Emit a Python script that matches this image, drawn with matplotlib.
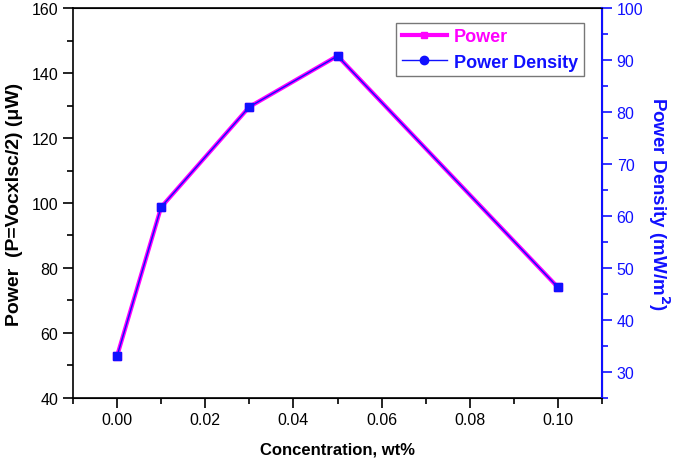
import matplotlib
matplotlib.use("Agg")
import matplotlib.pyplot as plt
from matplotlib.lines import Line2D
from matplotlib.ticker import MultipleLocator

plt.rcParams['font.family'] = ['Liberation Sans', 'DejaVu Sans']

conc = [0.00, 0.01, 0.03, 0.05, 0.10]
power = [52.8, 98.7, 129.6, 145.3, 74.0]
power_density = [33.0, 61.7, 81.0, 90.8, 46.25]

magenta = '#ff00ff'
blue = '#1010ff'

fig = plt.figure(figsize=(6.75, 4.6), dpi=100)
ax = fig.add_axes([0.108, 0.133, 0.784, 0.847])
ax2 = ax.twinx()

ax.plot(conc, power, color=magenta, lw=3, marker='s', ms=6, zorder=2)
ax2.plot(conc, power_density, color=blue, lw=1, marker='s', ms=6, zorder=3)

ax.set_xlim(-0.01, 0.11)
ax.set_ylim(40, 160)
ax2.set_ylim(25, 100)

ax.xaxis.set_major_locator(MultipleLocator(0.02))
ax.xaxis.set_minor_locator(MultipleLocator(0.01))
ax.yaxis.set_major_locator(MultipleLocator(20))
ax.yaxis.set_minor_locator(MultipleLocator(10))
ax2.yaxis.set_major_locator(MultipleLocator(10))
ax2.yaxis.set_minor_locator(MultipleLocator(5))
ax.xaxis.set_major_formatter(matplotlib.ticker.FormatStrFormatter('%.2f'))

ax.tick_params(which='major', direction='out', length=7, width=1.2, labelsize=11.5)
ax.tick_params(which='minor', direction='out', length=4, width=1.2)
ax2.tick_params(which='major', direction='out', length=7, width=1.2, labelsize=11.5,
                colors=blue)
ax2.tick_params(which='minor', direction='out', length=4, width=1.2, colors=blue)

for s in ['left', 'bottom', 'top']:
    ax.spines[s].set_linewidth(1.2)
ax2.spines['right'].set_color(blue)
ax2.spines['right'].set_linewidth(1.5)
ax2.spines['left'].set_visible(False)

ax.set_xlabel('Concentration, wt%', fontsize=12, fontweight='bold', labelpad=10)
ax.set_ylabel('Power  (P=VocxIsc/2) (μW)', fontsize=14, fontweight='bold', labelpad=6)
ax2.set_ylabel('Power Density (mW/m$^\\mathbf{2}$)', fontsize=13.5, fontweight='bold',
               color=blue, rotation=270, labelpad=20)

handles = [
    Line2D([], [], color=magenta, lw=3, marker='s', ms=5),
    Line2D([], [], color=blue, lw=1, marker='o', ms=6),
]
leg = ax2.legend(handles, ['Power', 'Power Density'], loc='upper right',
                 bbox_to_anchor=(0.982, 0.985), fancybox=False, edgecolor='#555555',
                 prop={'weight': 'bold', 'size': 13}, handlelength=2.5,
                 borderpad=0.3, labelspacing=0.45, handletextpad=0.4)
leg.get_frame().set_linewidth(1.0)
leg.get_texts()[0].set_color(magenta)
leg.get_texts()[1].set_color(blue)

fig.savefig('out.png', dpi=100)
